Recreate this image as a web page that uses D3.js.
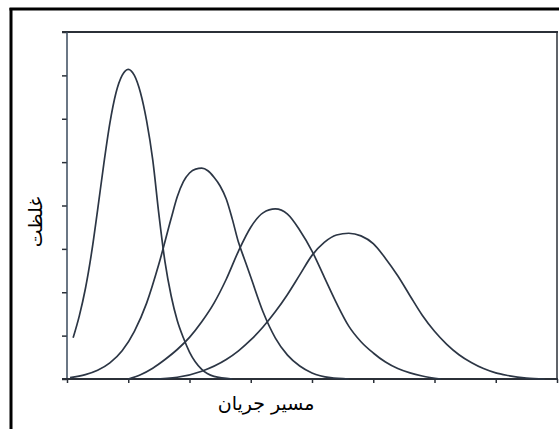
<!DOCTYPE html>
<html>
<head>
<meta charset="utf-8">
<script src="https://cdn.jsdelivr.net/npm/d3@7"></script>
<style>
  html, body { margin: 0; padding: 0; background: #fff; }
  svg { display: block; }
</style>
</head>
<body>
<svg id="chart" width="559" height="429"></svg>
<script>
// ---- data (x in tick units along flow path, y in tick units of concentration)
const xTicks = [0, 1, 2, 3, 4, 5, 6, 7, 8];
const yTicks = [0, 1, 2, 3, 4, 5, 6, 7, 8];
const xLabel = "مسیر جریان";
const yLabel = "غلظت";

const curve1 = [
  [0.10, 0.95], [0.20, 1.45], [0.30, 2.08], [0.40, 2.90], [0.50, 3.90], [0.60, 4.95],
  [0.70, 5.90], [0.80, 6.60], [0.90, 7.00], [1.00, 7.14], [1.10, 7.00], [1.20, 6.60],
  [1.30, 5.95], [1.40, 5.05], [1.50, 3.80], [1.60, 2.70], [1.70, 1.92], [1.80, 1.35],
  [1.90, 0.95], [2.00, 0.62], [2.20, 0.22], [2.40, 0.06], [2.70, 0.00]
];
const curve2 = [
  [0.05, 0.03], [0.30, 0.10], [0.50, 0.20], [0.70, 0.37], [0.90, 0.65], [1.10, 1.10],
  [1.30, 1.75], [1.50, 2.65], [1.70, 3.70], [1.80, 4.20], [1.90, 4.55], [2.00, 4.75],
  [2.10, 4.84], [2.20, 4.86], [2.30, 4.80], [2.40, 4.65], [2.50, 4.45], [2.60, 4.15],
  [2.70, 3.68], [2.80, 3.15], [2.90, 2.75], [3.00, 2.35], [3.20, 1.55], [3.40, 0.95],
  [3.60, 0.55], [3.80, 0.30], [4.00, 0.14], [4.30, 0.03], [4.60, 0.00]
];
const curve3 = [
  [1.00, 0.00], [1.20, 0.10], [1.40, 0.25], [1.60, 0.45], [1.80, 0.68], [2.00, 0.96],
  [2.20, 1.32], [2.40, 1.75], [2.60, 2.30], [2.80, 2.95], [3.00, 3.50], [3.20, 3.83],
  [3.40, 3.92], [3.60, 3.80], [3.80, 3.43], [4.00, 2.95], [4.20, 2.35], [4.40, 1.75],
  [4.60, 1.22], [4.80, 0.86], [5.00, 0.60], [5.20, 0.39], [5.40, 0.24], [5.60, 0.14],
  [5.80, 0.07], [6.10, 0.00]
];
const curve4 = [
  [1.40, 0.00], [1.80, 0.04], [2.20, 0.18], [2.60, 0.45], [2.80, 0.65], [3.00, 0.90],
  [3.20, 1.20], [3.40, 1.55], [3.60, 1.95], [3.80, 2.40], [4.00, 2.85], [4.20, 3.15],
  [4.40, 3.32], [4.60, 3.36], [4.80, 3.30], [5.00, 3.12], [5.20, 2.78], [5.40, 2.38],
  [5.60, 1.92], [5.80, 1.47], [6.00, 1.10], [6.20, 0.80], [6.40, 0.56], [6.60, 0.38],
  [6.80, 0.24], [7.00, 0.14], [7.20, 0.08], [7.50, 0.02], [7.80, 0.00]
];
const seriesList = [curve1, curve2, curve3, curve4];

// ---- drawing
const svg = d3.select("#chart");
const W = 559, H = 429;
const plot = { left: 67, right: 557, top: 32, bottom: 379 };

// outer frame (only left and top edges are visible in the picture)
svg.append("line").attr("x1", 11).attr("x2", 11).attr("y1", 8).attr("y2", H)
  .attr("stroke", "#000").attr("stroke-width", 3);
svg.append("line").attr("x1", 9.5).attr("x2", W).attr("y1", 9).attr("y2", 9)
  .attr("stroke", "#000").attr("stroke-width", 3);

const x = d3.scaleLinear().domain([0, 8]).range([plot.left, plot.right]);
const y = d3.scaleLinear().domain([0, 8]).range([plot.bottom, plot.top]);

const axisColor = "#2b3038";
const lineColor = "#2c3645";

// left axis (ticks outward)
const gy = svg.append("g").attr("transform", `translate(${plot.left},0)`)
  .call(d3.axisLeft(y).tickValues(yTicks).tickSize(5).tickFormat(""));
// bottom axis (ticks outward)
const gx = svg.append("g").attr("transform", `translate(0,${plot.bottom})`)
  .call(d3.axisBottom(x).tickValues(xTicks).tickSize(4).tickFormat(""));
[gx, gy].forEach(g => {
  g.select(".domain").remove();
  g.selectAll(".tick line").attr("stroke", axisColor).attr("stroke-width", 1.5);
});

// frame lines
svg.append("line").attr("x1", plot.left - 5).attr("x2", plot.right + 1)
  .attr("y1", plot.top).attr("y2", plot.top)
  .attr("stroke", axisColor).attr("stroke-width", 2);
svg.append("line").attr("x1", plot.left).attr("x2", plot.left)
  .attr("y1", plot.top).attr("y2", plot.bottom + 1)
  .attr("stroke", "#3a4a5c").attr("stroke-width", 1.5);
svg.append("line").attr("x1", plot.left - 5).attr("x2", plot.right + 1)
  .attr("y1", plot.bottom).attr("y2", plot.bottom)
  .attr("stroke", axisColor).attr("stroke-width", 2);
svg.append("line").attr("x1", plot.right).attr("x2", plot.right)
  .attr("y1", plot.top).attr("y2", plot.bottom)
  .attr("stroke", axisColor).attr("stroke-width", 1.5);

// curves
const line = d3.line()
  .x(d => x(d[0]))
  .y(d => y(d[1]))
  .curve(d3.curveMonotoneX);

svg.append("g").selectAll("path")
  .data(seriesList)
  .join("path")
  .attr("d", line)
  .attr("fill", "none")
  .attr("stroke", lineColor)
  .attr("stroke-width", 1.7)
  .attr("stroke-linejoin", "round");

// labels
svg.append("text")
  .attr("x", 266).attr("y", 410)
  .attr("text-anchor", "middle")
  .attr("font-family", "'DejaVu Sans', 'Liberation Sans', sans-serif")
  .attr("font-size", 19)
  .attr("fill", "#000")
  .attr("direction", "rtl")
  .text(xLabel);

svg.append("text")
  .attr("transform", "translate(42,222) rotate(-90)")
  .attr("text-anchor", "middle")
  .attr("font-family", "'DejaVu Sans', 'Liberation Sans', sans-serif")
  .attr("font-size", 19)
  .attr("fill", "#000")
  .attr("direction", "rtl")
  .text(yLabel);
</script>
</body>
</html>
